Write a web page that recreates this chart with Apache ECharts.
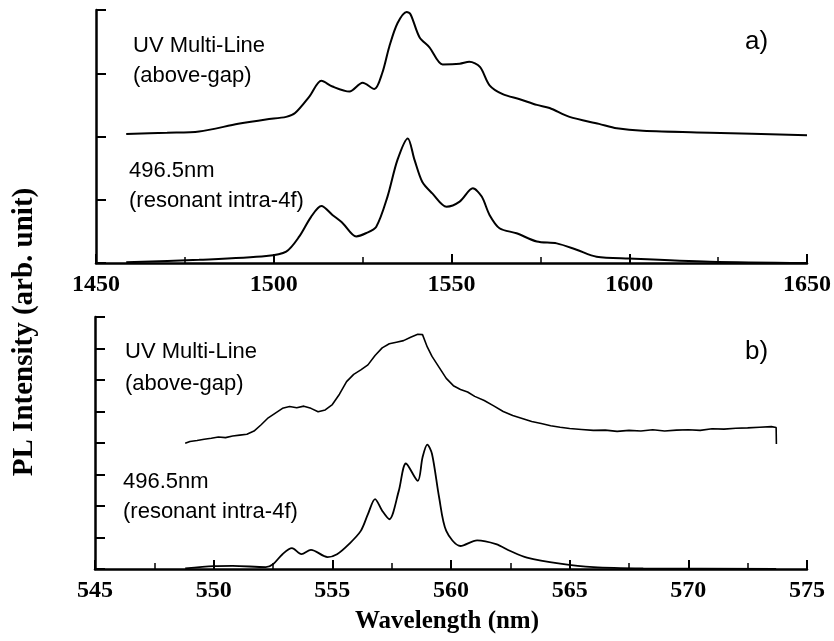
<!DOCTYPE html>
<html>
<head>
<meta charset="utf-8">
<script src="https://cdn.jsdelivr.net/npm/echarts@6/dist/echarts.min.js"></script>
<style>
  html, body { margin: 0; padding: 0; background: #fff; }
  #main { width: 834px; height: 641px; }
</style>
</head>
<body>
<div id="main"></div>
<script>
// a) 1450-1650 nm region, two excitation conditions (offset traces)
var aUvMultiLine = [
  [1458.5, 2.04], [1470, 2.06], [1479, 2.08], [1490, 2.20], [1497.8, 2.27], [1503.5, 2.31],
  [1506, 2.37], [1510, 2.63], [1513.4, 2.88], [1516.5, 2.79], [1521.3, 2.71], [1525, 2.85],
  [1528.3, 2.75], [1530.5, 3.0], [1532.5, 3.42], [1534.8, 3.79], [1537.4, 3.97], [1538.5, 3.93],
  [1541, 3.57], [1543.8, 3.41], [1547.5, 3.14], [1552.3, 3.15], [1555, 3.18], [1558, 3.10],
  [1560.7, 2.81], [1564.4, 2.67], [1569.2, 2.59], [1574, 2.50], [1577.6, 2.45], [1583.2, 2.31],
  [1591.5, 2.20], [1596.5, 2.13], [1603.8, 2.09], [1622.7, 2.06], [1650, 2.02]
];
var aResonant = [
  [1458.5, 0.01], [1479, 0.05], [1497.9, 0.11], [1503.5, 0.18], [1507.2, 0.42], [1510.5, 0.73],
  [1513.4, 0.90], [1516.5, 0.76], [1519.4, 0.63], [1523.2, 0.42], [1525.9, 0.47], [1528.8, 0.57],
  [1532, 1.05], [1534.8, 1.63], [1537.7, 1.97], [1539.6, 1.63], [1541.8, 1.28], [1544.6, 1.10],
  [1548.6, 0.89], [1552.3, 0.97], [1556, 1.18], [1558.5, 1.05], [1560.7, 0.76], [1563.5, 0.55],
  [1568.3, 0.47], [1574, 0.34], [1579.6, 0.31], [1585.2, 0.21], [1590.8, 0.10], [1600, 0.07],
  [1622.7, 0.02], [1650, 0.0]
];
// b) 545-575 nm region
var bUvMultiLine = [
  [548.8, 3.99], [549.0, 4.05], [549.3, 4.08], [549.6, 4.12], [549.9, 4.15], [550.2, 4.19],
  [550.5, 4.17], [550.8, 4.22], [551.1, 4.25], [551.4, 4.28], [551.7, 4.38], [552.0, 4.58],
  [552.3, 4.80], [552.6, 4.95], [552.9, 5.10], [553.2, 5.16], [553.5, 5.12], [553.8, 5.17],
  [554.1, 5.10], [554.4, 4.99], [554.7, 5.05], [555.0, 5.22], [555.3, 5.55], [555.6, 5.95],
  [555.9, 6.18], [556.2, 6.32], [556.5, 6.48], [556.8, 6.78], [557.1, 7.02], [557.4, 7.15],
  [557.7, 7.20], [558.0, 7.25], [558.3, 7.36], [558.6, 7.45], [558.8, 7.44], [559.0, 7.05],
  [559.2, 6.75], [559.5, 6.40], [559.8, 6.05], [560.1, 5.82], [560.4, 5.70], [560.7, 5.62],
  [561.0, 5.48], [561.4, 5.35], [561.8, 5.18], [562.2, 5.00], [562.6, 4.87], [563.0, 4.78],
  [563.4, 4.68], [563.8, 4.62], [564.2, 4.55], [564.6, 4.50], [565.0, 4.46], [565.5, 4.43],
  [566.0, 4.40], [566.5, 4.41], [567.0, 4.37], [567.5, 4.40], [568.0, 4.38], [568.5, 4.42],
  [569.0, 4.38], [569.5, 4.41], [570.0, 4.42], [570.5, 4.40], [571.0, 4.45], [571.5, 4.44],
  [572.0, 4.47], [572.5, 4.48], [573.0, 4.50], [573.5, 4.52], [573.7, 4.49], [573.71, 3.97]
];
var bResonant = [
  [548.8, 0.02], [550, 0.09], [550.8, 0.10], [552.2, 0.06], [552.5, 0.15], [552.9, 0.47],
  [553.3, 0.66], [553.7, 0.47], [554.1, 0.61], [554.8, 0.38], [555.2, 0.47], [555.7, 0.79],
  [556.2, 1.21], [556.5, 1.74], [556.8, 2.22], [557.1, 1.85], [557.4, 1.58], [557.8, 2.48],
  [558.1, 3.35], [558.6, 2.80], [558.8, 3.54], [559.0, 3.95], [559.2, 3.65], [559.5, 2.27],
  [559.8, 1.21], [560.4, 0.73], [561.1, 0.91], [561.9, 0.79], [562.5, 0.57], [563.2, 0.36],
  [564.6, 0.17], [566, 0.06], [568.1, 0.02], [573.7, 0.0]
];

var serif = '"Liberation Serif", "Times New Roman", serif';
var sans = '"Liberation Sans", Arial, sans-serif';

var myChart = echarts.init(document.getElementById('main'));

function xAxisCfg(idx, min, max, step) {
    return {
        type: 'value', gridIndex: idx, min: min, max: max, interval: step,
        axisLine: { lineStyle: { color: '#000', width: 2.5 } },
        axisTick: { inside: true, length: 9, lineStyle: { color: '#000', width: 2 } },
        minorTick: { show: true, splitNumber: 2, length: 6, lineStyle: { color: '#000', width: 1.5 } },
        axisLabel: {
            color: '#000', fontFamily: serif, fontWeight: 'bold', fontSize: 24, margin: 10,
            formatter: function (v) { return String(v); }
        },
        splitLine: { show: false }
    };
}
function yAxisCfg(idx, max) {
    return {
        type: 'value', gridIndex: idx, min: 0, max: max, interval: 1,
        axisLine: { lineStyle: { color: '#000', width: 2.5 } },
        axisTick: { inside: true, length: 10, lineStyle: { color: '#000', width: 2 } },
        axisLabel: { show: false },
        splitLine: { show: false }
    };
}
function lineSeries(xi, data, smooth, width) {
    return {
        type: 'line', xAxisIndex: xi, yAxisIndex: xi, data: data,
        showSymbol: false, smooth: smooth, animation: false,
        lineStyle: { color: '#000', width: width }
    };
}
function label(x, y, txt, size) {
    return {
        type: 'text', x: x, y: y,
        style: { text: txt, font: (size || 22) + 'px ' + sans, fill: '#000', verticalAlign: 'middle' }
    };
}

var option = {
    backgroundColor: '#fff',
    animation: false,
    grid: [
        { left: 96, top: 10, right: 27, height: 253 },
        { left: 95, top: 317, right: 27, height: 252 }
    ],
    xAxis: [xAxisCfg(0, 1450, 1650, 50), xAxisCfg(1, 545, 575, 5)],
    yAxis: [yAxisCfg(0, 4), yAxisCfg(1, 8)],
    series: [
        lineSeries(0, aUvMultiLine, 0.3, 2),
        lineSeries(0, aResonant, 0.3, 2),
        lineSeries(1, bUvMultiLine, false, 1.6),
        lineSeries(1, bResonant, 0.3, 1.8)
    ],
    graphic: [
        label(133, 46, 'UV Multi-Line'),
        label(133, 76, '(above-gap)'),
        label(129, 171, '496.5nm'),
        label(129, 201, '(resonant intra-4f)'),
        label(745, 42, 'a)', 26),
        label(125, 352, 'UV Multi-Line'),
        label(125, 384, '(above-gap)'),
        label(123, 482, '496.5nm'),
        label(123, 512, '(resonant intra-4f)'),
        label(745, 352, 'b)', 26),
        {
            type: 'text', x: 25, y: 332, rotation: Math.PI / 2,
            style: { text: 'PL Intensity (arb. unit)', font: 'bold 29px ' + serif, fill: '#000',
                     align: 'center', verticalAlign: 'middle' }
        },
        {
            type: 'text', x: 447, y: 622,
            style: { text: 'Wavelength (nm)', font: 'bold 25px ' + serif, fill: '#000',
                     align: 'center', verticalAlign: 'middle' }
        }
    ]
};

myChart.setOption(option);
</script>
</body>
</html>
